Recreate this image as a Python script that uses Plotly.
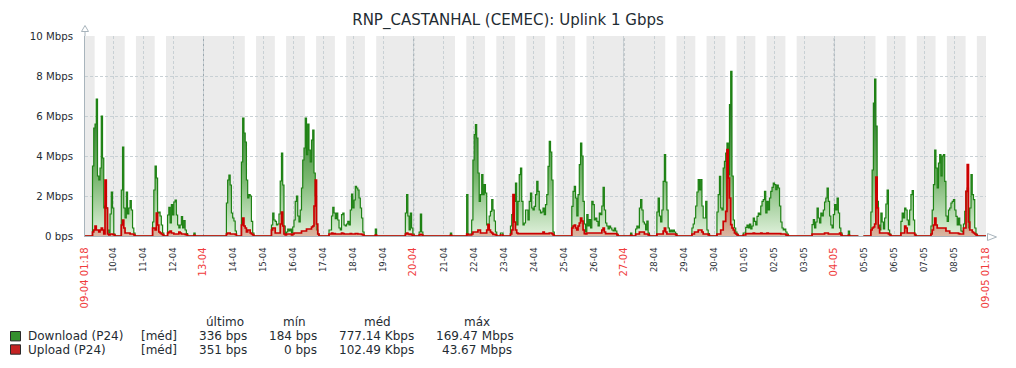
import datetime as dt
import plotly.graph_objects as go

# ---------------- data ----------------
title_text = "RNP_CASTANHAL (CEMEC): Uplink 1 Gbps"
start_time = dt.datetime(2025, 4, 9, 1, 18)
end_time = dt.datetime(2025, 5, 9, 1, 18)

# hourly averages in Mbps, one row per day starting at 09-04 01:18
download_mbps = [
    0, 0, 0, 0, 0, 0, 3.5, 5.4, 5.6, 6.85, 3.0, 2.8, 3.4, 6.0, 3.9, 1.4, 1.5, 1.4, 0.3, 0.15, 1.1, 2.2, 1.4, 0.1,
    0, 0, 0, 0, 0, 2.3, 4.45, 1.4, 0.9, 2.2, 1.1, 1.4, 1.77, 1.3, 0.4, 0.15, 0, 0, 0, 0, 0, 0, 0, 0,
    0, 0, 0, 0, 0, 0, 0.7, 2.3, 3.5, 2.9, 1.15, 1.2, 1.0, 0.55, 0.15, 0, 0, 0, 1.05, 1.43, 0.65, 1.57, 1.05, 1.7,
    1.8, 1.05, 0.55, 0.4, 0.55, 0.97, 0.4, 0.77, 0.3, 0.12, 0, 0, 0, 0, 0, 0.15, 0, 0, 0, 0, 0, 0, 0, 0,
    0, 0, 0, 0, 0, 0, 0, 0, 0, 0, 0, 0, 0, 0, 0, 0, 0, 1.65, 2.8, 3.05, 2.55, 1.15, 0.9, 0.75,
    0.25, 0, 0, 0, 0, 3.7, 5.9, 5.15, 4.7, 2.8, 1.9, 2.07, 2.0, 0.73, 0.15, 0, 0, 0, 0, 0, 0, 0, 0, 0,
    0, 0, 0, 0, 0, 0.55, 1.15, 0.8, 0.73, 0.55, 0.6, 1.1, 2.75, 4.15, 2.55, 0.5, 0.12, 0.2, 0.35, 0.25, 0.35, 0.15, 0.45, 0.8,
    1.73, 2.0, 1.0, 0.7, 1.3, 2.4, 3.8, 4.4, 5.9, 4.07, 5.6, 4.3, 3.7, 4.8, 5.3, 3.15, 2.0, 0.3, 0.1, 0, 0, 0, 0, 0,
    0, 0, 0, 0.3, 0.3, 1.0, 1.43, 1.15, 0.87, 1.15, 0.8, 0.4, 0.3, 1.07, 1.15, 0.55, 0.5, 0.6, 0.73, 0.55, 1.3, 2.1, 1.4, 1.8,
    2.48, 2.4, 2.3, 1.9, 1.4, 0.9, 0.2, 0, 0, 0, 0, 0, 0, 0, 0, 0, 0.35, 0, 0, 0, 0, 0, 0, 0,
    0, 0, 0, 0, 0, 0, 0, 0, 0, 0, 0, 0, 0, 0, 0, 0, 1.15, 2.07, 1.0, 0.3, 1.15, 0.4, 0.1, 0,
    0, 0, 0, 0.2, 1.1, 0.2, 0, 0, 0, 0, 0, 0, 0, 0, 0, 0, 0, 0, 0, 0, 0, 0, 0, 0,
    0, 0, 0, 0, 0.15, 0, 0, 0, 0, 0, 0, 0, 0, 0, 0, 0, 0, 2.07, 0.1, 0.1, 0.1, 0.8, 3.8, 5.07,
    5.57, 4.9, 3.15, 1.73, 2.07, 3.07, 2.07, 2.57, 2.15, 0.55, 0.6, 1.0, 1.23, 1.82, 1.3, 0.75, 0.2, 0, 0, 0, 0.15, 0.15, 0, 0,
    0, 0, 0, 0, 0.5, 1.07, 1.15, 1.73, 2.65, 0.55, 1.73, 3.07, 3.4, 1.73, 0.55, 0.65, 1.3, 1.3, 0.8, 1.73, 2.15, 1.4, 1.3, 1.48,
    2.07, 2.73, 2.23, 1.3, 1.15, 1.2, 1.4, 1.07, 1.57, 2.07, 3.48, 4.73, 4.2, 2.8, 0.2, 0, 0, 0, 0, 0, 0, 0, 0, 0,
    0, 0, 0, 0, 0, 1.48, 2.23, 2.48, 1.9, 1.0, 2.07, 3.57, 4.65, 4.0, 1.73, 0.6, 0.2, 1.07, 0.5, 0.82, 0.4, 1.73, 1.57, 0.8,
    0.9, 0.73, 0.5, 1.15, 1.07, 1.5, 2.43, 1.3, 0.65, 0.5, 0.35, 0.5, 0.4, 0.3, 0.25, 0.4, 0.25, 0.1, 0, 0, 0, 0, 0, 0,
    0, 0, 0, 0, 0.15, 0, 0, 0, 0.35, 0.5, 0.4, 1.4, 1.82, 1.3, 0.7, 0.6, 0.3, 0.75, 0.15, 0, 0, 0, 0, 0,
    0, 1.2, 1.9, 1.0, 0.7, 1.3, 2.73, 4.07, 2.7, 1.3, 0.4, 0.2, 0.3, 0.2, 0.3, 0.2, 0.12, 0, 0, 0, 0, 0, 0, 0,
    0, 0, 0, 0, 0, 0.4, 0.6, 0.9, 1.5, 2.2, 2.82, 2.3, 2.82, 1.5, 0.9, 0.9, 1.73, 0.3, 0.12, 0, 0, 0, 0, 0,
    0, 1.2, 2.07, 2.98, 1.4, 1.3, 3.4, 3.73, 4.15, 4.65, 3.07, 6.57, 8.23, 3.0, 0.8, 0.4, 0.2, 0.1, 0, 0, 0, 0, 0.15, 0.15,
    0.43, 0.55, 0.4, 0.6, 0.35, 0.5, 0.9, 0.73, 0.55, 0.98, 1.15, 1.07, 1.5, 1.73, 1.82, 2.23, 1.15, 1.73, 1.3, 1.9, 2.23, 2.43, 2.65, 2.57,
    2.32, 2.55, 2.4, 1.5, 0.7, 0.4, 0.3, 0.35, 0.2, 0.1, 0, 0, 0, 0, 0, 0, 0, 0, 0, 0, 0, 0, 0, 0,
    0, 0, 0, 0, 0, 0.57, 0.82, 0.4, 0.7, 1.4, 0.9, 0.65, 1.15, 1.0, 1.3, 1.7, 1.9, 2.4, 1.73, 1.0, 0.55, 0.4, 1.07, 1.57,
    1.3, 1.9, 1.15, 0.4, 0.15, 0, 0, 0, 0, 0, 0.25, 0, 0, 0, 0, 0, 0, 0, 0, None, None, None, 0, 0,
    0, 0, 0, 0, 1.2, 3.3, 6.65, 7.85, 5.5, 1.73, 0.55, 0.3, 1.15, 0.7, 0.35, 0.9, 1.6, 2.3, 0.3, 0.1, 0, 0, 0, 0,
    0, 0, 0, 0, 0.73, 1.15, 0.9, 1.4, 1.3, 0.8, 0.55, 1.3, 2.07, 2.27, 0.8, 0.1, 0, 0, 0, 0, 0, 0, 0, 0,
    0, 0, 0, 0, 0.5, 1.3, 2.57, 4.3, 3.4, 2.4, 3.65, 4.07, 3.0, 4.0, 4.07, 2.73, 1.0, 0.73, 1.3, 1.4, 1.65, 1.73, 1.82, 1.3,
    0.98, 0.55, 0.9, 0.55, 0.25, 0.2, 0.6, 1.23, 2.23, 2.4, 0.4, 1.4, 3.07, 2.07, 1.82, 0.4, 0.1, 0, 0, 0, 0, 0, 0, 0,
    0,
]

upload_mbps = [
    0, 0, 0, 0, 0, 0, 0.2, 0.3, 0.5, 0.3, 0.3, 0.2, 0.3, 0.4, 0.3, 0.1, 2.8, 1.4, 0.1, 0.05, 0.1, 0.1, 0.08, 0.05,
    0, 0, 0, 0, 0, 0.55, 0.8, 0.4, 0.15, 0.15, 0.15, 0.15, 0.1, 0.1, 0.1, 0.05, 0, 0, 0, 0, 0, 0, 0, 0,
    0, 0, 0, 0, 0, 0, 0.4, 0.4, 0.3, 1.15, 0.55, 0.2, 0.15, 0.1, 0.05, 0, 0, 0, 0.15, 0.2, 0.25, 0.15, 0.15, 0.1,
    0.1, 0.1, 0.1, 0.2, 0.15, 0.1, 0.1, 0.1, 0.08, 0.05, 0, 0, 0, 0, 0, 0.03, 0, 0, 0, 0, 0, 0, 0, 0,
    0, 0, 0, 0, 0, 0, 0, 0, 0, 0, 0, 0, 0, 0, 0, 0, 0, 0.1, 0.15, 0.15, 0.1, 0.1, 0.1, 0.1,
    0.08, 0, 0, 0, 0, 0.55, 0.9, 0.5, 0.4, 0.2, 0.3, 0.3, 0.15, 0.1, 0.05, 0, 0, 0, 0, 0, 0, 0, 0, 0,
    0, 0, 0, 0, 0, 0.3, 0.4, 0.4, 0.15, 0.15, 0.15, 0.15, 0.6, 1.2, 0.5, 0.1, 0.05, 0.1, 0.1, 0.1, 0.1, 0.05, 0.1, 0.15,
    0.15, 0.15, 0.15, 0.15, 0.15, 0.25, 0.25, 0.25, 0.25, 0.35, 0.35, 0.35, 0.35, 0.45, 0.5, 1.5, 2.8, 0.6, 0.1, 0, 0, 0, 0, 0,
    0, 0, 0, 0.1, 0.1, 0.15, 0.1, 0.12, 0.1, 0.1, 0.1, 0.1, 0.1, 0.15, 0.12, 0.1, 0.1, 0.1, 0.1, 0.1, 0.12, 0.1, 0.1, 0.1,
    0.12, 0.12, 0.1, 0.1, 0.1, 0.08, 0.05, 0, 0, 0, 0, 0, 0, 0, 0, 0, 0.05, 0, 0, 0, 0, 0, 0, 0,
    0, 0, 0, 0, 0, 0, 0, 0, 0, 0, 0, 0, 0, 0, 0, 0, 0.1, 0.15, 0.1, 0.08, 0.1, 0.05, 0.03, 0,
    0, 0, 0, 0.05, 0.08, 0.05, 0, 0, 0, 0, 0, 0, 0, 0, 0, 0, 0, 0, 0, 0, 0, 0, 0, 0,
    0, 0, 0, 0, 0.03, 0, 0, 0, 0, 0, 0, 0, 0, 0, 0, 0, 0, 0.1, 0.05, 0.05, 0.05, 0.1, 0.2, 0.2,
    0.2, 0.2, 0.3, 0.3, 0.15, 0.15, 0.15, 0.15, 0.15, 0.3, 0.57, 0.3, 0.2, 0.15, 0.08, 0.08, 0.05, 0, 0, 0, 0.05, 0.05, 0, 0,
    0, 0, 0, 0, 0.1, 0.3, 2.07, 0.7, 0.3, 0.15, 0.12, 0.12, 0.12, 0.12, 0.12, 0.12, 0.12, 0.12, 0.12, 0.12, 0.12, 0.12, 0.12, 0.12,
    0.12, 0.12, 0.12, 0.12, 0.12, 0.12, 0.2, 0.12, 0.12, 0.12, 0.12, 0.15, 0.15, 0.12, 0.05, 0, 0, 0, 0, 0, 0, 0, 0, 0,
    0, 0, 0, 0, 0, 0.4, 0.5, 0.55, 0.4, 0.3, 0.5, 0.65, 0.9, 0.75, 0.3, 0.12, 0.1, 0.15, 0.15, 0.15, 0.15, 0.15, 0.15, 0.15,
    0.15, 0.15, 0.15, 0.15, 0.15, 0.3, 0.4, 0.2, 0.12, 0.12, 0.12, 0.12, 0.12, 0.12, 0.12, 0.12, 0.12, 0.05, 0, 0, 0, 0, 0, 0,
    0, 0, 0, 0, 0.03, 0, 0, 0, 0.1, 0.1, 0.1, 0.2, 0.2, 0.2, 0.2, 0.1, 0.1, 0.1, 0.05, 0, 0, 0, 0, 0,
    0, 0.1, 0.1, 0.1, 0.1, 0.1, 0.25, 0.4, 0.2, 0.1, 0.1, 0.1, 0.1, 0.1, 0.1, 0.1, 0.05, 0, 0, 0, 0, 0, 0, 0,
    0, 0, 0, 0, 0, 0.1, 0.1, 0.2, 0.2, 0.2, 0.3, 0.3, 0.3, 0.2, 0.1, 0.1, 0.1, 0.1, 0.05, 0, 0, 0, 0, 0,
    0, 0.1, 0.1, 0.1, 0.3, 0.3, 0.73, 0.73, 1.23, 4.32, 2.9, 1.9, 0.57, 0.4, 0.3, 0.15, 0.1, 0.05, 0, 0, 0, 0, 0.05, 0.05,
    0.12, 0.12, 0.12, 0.12, 0.12, 0.12, 0.15, 0.12, 0.12, 0.12, 0.12, 0.12, 0.15, 0.12, 0.12, 0.12, 0.12, 0.15, 0.12, 0.12, 0.12, 0.12, 0.12, 0.12,
    0.12, 0.12, 0.12, 0.12, 0.1, 0.1, 0.1, 0.1, 0.05, 0.03, 0, 0, 0, 0, 0, 0, 0, 0, 0, 0, 0, 0, 0, 0,
    0, 0, 0, 0, 0, 0.1, 0.1, 0.1, 0.1, 0.1, 0.1, 0.1, 0.1, 0.1, 0.1, 0.15, 0.15, 0.15, 0.1, 0.1, 0.1, 0.1, 0.1, 0.1,
    0.1, 0.1, 0.1, 0.15, 0.05, 0, 0, 0, 0, 0, 0.03, 0, 0, 0, 0, 0, 0, 0, 0, None, None, None, 0, 0,
    0, 0, 0, 0, 0.3, 0.4, 0.45, 0.6, 2.95, 1.4, 0.4, 0.15, 0.15, 0.15, 0.15, 0.15, 0.15, 0.15, 0.1, 0.05, 0, 0, 0, 0,
    0, 0, 0, 0, 0.15, 0.15, 0.15, 0.5, 0.4, 0.15, 0.15, 0.15, 0.15, 0.15, 0.15, 0.05, 0, 0, 0, 0, 0, 0, 0, 0,
    0, 0, 0, 0, 0.1, 0.3, 0.55, 0.9, 0.55, 0.4, 0.4, 0.4, 0.4, 0.4, 0.4, 0.4, 0.25, 0.25, 0.25, 0.15, 0.15, 0.15, 0.15, 0.15,
    0.15, 0.15, 0.12, 0.1, 0.1, 0.1, 0.4, 0.4, 2.23, 3.57, 0.7, 0.3, 0.3, 0.2, 0.15, 0.1, 0.05, 0, 0, 0, 0, 0, 0, 0,
    0,
]

y_tick_values = [0, 2, 4, 6, 8, 10]
y_tick_labels = ["0 bps", "2 Mbps", "4 Mbps", "6 Mbps", "8 Mbps", "10 Mbps"]

work_weekdays = [0, 1, 2, 3, 4]      # Mon..Fri
work_start_hour = 9
work_end_hour = 18

series_names = ["Download (P24)", "Upload (P24)"]
series_func = ["[méd]", "[méd]"]
stat_headers = ["último", "mín", "méd", "máx"]
stat_last = ["336 bps", "351 bps"]
stat_min = ["184 bps", "0 bps"]
stat_avg = ["777.14 Kbps", "102.49 Kbps"]
stat_max = ["169.47 Mbps", "43.67 Mbps"]

# ---------------- styling ----------------
FONT = "DejaVu Sans"
TXT = "#1F2C33"
RED_TXT = "#F03C3C"
GRID = "#C8D0D4"
GRID_DARK = "#9DA8AF"
AXIS = "#A8B4BC"
SHADE = "#EBEBEB"
GREEN_LINE = "#1E8214"
RED_LINE = "#CC0000"
GREEN_SW = "#35902F"
RED_SW = "#C42222"

W, H = 1016, 368
ML, MR, MT, MB = 85, 30, 36, 132
PW, PH = W - ML - MR, H - MT - MB


def px_x(px):
    return (px - ML) / PW


def px_y(py):
    return (MT + PH - py) / PH


times = [start_time + dt.timedelta(hours=i) for i in range(len(download_mbps))]

fig = go.Figure()
fig.add_trace(go.Scatter(
    x=times, y=download_mbps, mode="lines", line=dict(color=GREEN_LINE, width=1.2, shape="hv"),
    fill="tozeroy",
    fillgradient=dict(type="vertical", start=0, stop=6.5,
                      colorscale=[[0, "rgb(224,241,220)"], [0.45, "rgb(120,182,110)"], [1, "rgb(36,118,34)"]]),
    name=series_names[0], showlegend=False, hoverinfo="skip",
))
fig.add_trace(go.Scatter(
    x=times, y=upload_mbps, mode="lines", line=dict(color=RED_LINE, width=1.7, shape="hv"),
    fill="tozeroy",
    fillgradient=dict(type="vertical", start=0, stop=4.5,
                      colorscale=[[0, "rgba(212,110,90,0.45)"], [1, "rgba(200,20,10,0.95)"]]),
    name=series_names[1], showlegend=False, hoverinfo="skip",
))

# non-working time shading computed from the calendar
shapes = []
work_intervals = []
d = dt.datetime(start_time.year, start_time.month, start_time.day)
while d < end_time:
    if d.weekday() in work_weekdays:
        ws = d + dt.timedelta(hours=work_start_hour)
        we = d + dt.timedelta(hours=work_end_hour)
        ws, we = max(ws, start_time), min(we, end_time)
        if ws < we:
            work_intervals.append((ws, we))
    d += dt.timedelta(days=1)
cursor = start_time
for ws, we in work_intervals + [(end_time, end_time)]:
    if ws > cursor:
        shapes.append(dict(type="rect", xref="x", yref="paper", x0=cursor, x1=ws, y0=0, y1=1,
                           fillcolor=SHADE, line=dict(width=0), layer="below"))
    cursor = max(cursor, we)

# ticks: start, every midnight, end
day_ticks = []
d = dt.datetime(start_time.year, start_time.month, start_time.day) + dt.timedelta(days=1)
while d < end_time - dt.timedelta(hours=2):
    day_ticks.append(d)
    d += dt.timedelta(days=1)

tick_vals = [start_time] + day_ticks + [end_time]
tick_text = ['<span style="color:%s;font-size:10px">%s</span>' % (RED_TXT, start_time.strftime("%d-%m %H:%M"))]
for t in day_ticks:
    if t.weekday() == 6:
        tick_text.append('<span style="color:%s;font-size:10px">%s</span>' % (RED_TXT, t.strftime("%d-%m")))
        shapes.append(dict(type="line", xref="x", yref="paper", x0=t, x1=t, y0=0, y1=1,
                           line=dict(color=GRID_DARK, width=1, dash="3px,2px"), layer="between"))
    else:
        tick_text.append(t.strftime("%d-%m"))
tick_text.append('<span style="color:%s;font-size:10px">%s</span>' % (RED_TXT, end_time.strftime("%d-%m %H:%M")))

# axis arrows
shapes.append(dict(type="line", xref="paper", yref="paper", x0=0, x1=0, y0=1, y1=px_y(31.5),
                   line=dict(color=AXIS, width=1)))
shapes.append(dict(type="path", xref="paper", yref="paper",
                   path="M %f,%f L %f,%f L %f,%f Z" % (px_x(81.5), px_y(31.5), px_x(88.5), px_y(31.5), px_x(85), px_y(25.5)),
                   line=dict(color=AXIS, width=1), fillcolor="white"))
shapes.append(dict(type="path", xref="paper", yref="paper",
                   path="M %f,%f L %f,%f L %f,%f Z" % (px_x(987.5), px_y(233.5), px_x(987.5), px_y(240.5), px_x(996.5), px_y(237)),
                   line=dict(color=AXIS, width=1), fillcolor="white"))

# legend table
annotations = []
row_y = [336.3, 349.6]
for i in range(2):
    sw_color = [GREEN_SW, RED_SW][i]
    shapes.append(dict(type="rect", xref="paper", yref="paper",
                       x0=px_x(10.5), x1=px_x(20.5), y0=px_y(row_y[i] - 4.8), y1=px_y(row_y[i] + 4.6),
                       fillcolor=sw_color, line=dict(color="#2A2A2A", width=1)))
    annotations.append(dict(text=series_names[i], x=px_x(25.5), y=px_y(row_y[i]), xref="paper", yref="paper",
                            xanchor="left", yanchor="middle", showarrow=False))
    annotations.append(dict(text=series_func[i], x=px_x(179), y=px_y(row_y[i]), xref="paper", yref="paper",
                            xanchor="right", yanchor="middle", showarrow=False))
    for col_x, vals in zip([249, 319, 416, [516, 514][i]], [stat_last, stat_min, stat_avg, stat_max]):
        annotations.append(dict(text=vals[i], x=px_x(col_x), y=px_y(row_y[i]), xref="paper", yref="paper",
                                xanchor="right", yanchor="middle", showarrow=False))
for hx, h in zip([224.5, 294, 377.5, 476.5], stat_headers):
    annotations.append(dict(text=h, x=px_x(hx), y=px_y(322.2), xref="paper", yref="paper",
                            xanchor="center", yanchor="middle", showarrow=False))
for a in annotations:
    a["font"] = dict(family=FONT, size=12, color=TXT)

fig.update_layout(
    width=W, height=H,
    margin=dict(l=ML, r=MR, t=MT, b=MB, autoexpand=False),
    paper_bgcolor="white", plot_bgcolor="white",
    title=dict(text=title_text, x=0.5, xanchor="center", xref="container",
               y=1 - 19.5 / H, yanchor="middle", yref="container",
               font=dict(family=FONT, size=15, color=TXT)),
    font=dict(family=FONT, color=TXT),
    shapes=shapes, annotations=annotations,
    showlegend=False, hovermode=False,
    xaxis=dict(type="date", range=[start_time, end_time], tickmode="array",
               tickvals=tick_vals, ticktext=tick_text, tickangle=-90,
               tickfont=dict(family=FONT, size=8.5, color=TXT),
               showgrid=True, gridcolor=GRID, gridwidth=1, griddash="3px,2px",
               showline=True, linecolor=AXIS, linewidth=1, ticks="", ticklabelstandoff=7,
               zeroline=False, fixedrange=True),
    yaxis=dict(range=[0, 10], tickmode="array", tickvals=y_tick_values, ticktext=y_tick_labels,
               tickfont=dict(family=FONT, size=10.2, color=TXT),
               showgrid=True, gridcolor=GRID, gridwidth=1, griddash="3px,2px",
               showline=True, linecolor=AXIS, linewidth=1, ticks="", ticklabelstandoff=9,
               zeroline=False, fixedrange=True),
)

fig.write_html("out.html", config={"displayModeBar": False},
               post_script="document.body.style.margin='0';document.body.style.overflow='hidden';")
